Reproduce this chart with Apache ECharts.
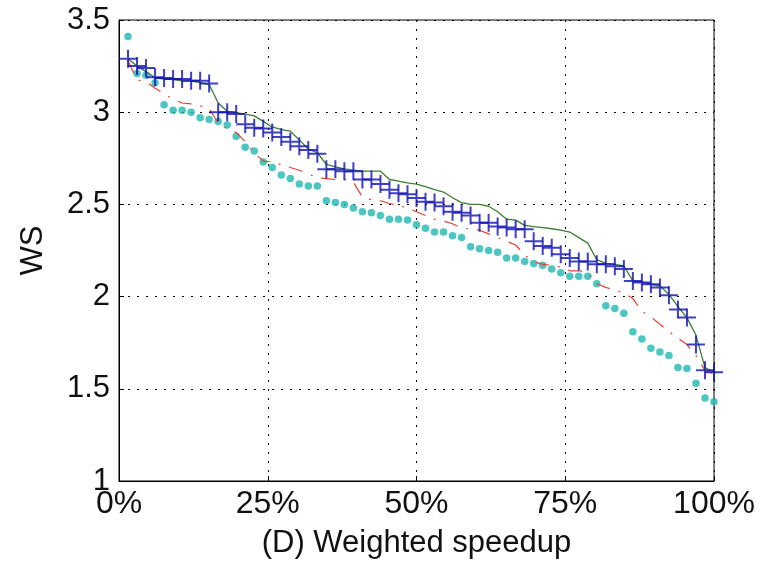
<!DOCTYPE html>
<html>
<head>
<meta charset="utf-8">
<script src="https://cdn.jsdelivr.net/npm/echarts@6/dist/echarts.min.js"></script>
<style>
  html, body { margin: 0; padding: 0; background: #fff; }
  #chart { width: 765px; height: 564px; }
</style>
</head>
<body>
<div id="chart"></div>
<script>
// Sorted weighted-speedup values for four configurations (66 workloads each)
const dotsWS = [
  3.41, 3.21, 3.20, 3.16, 3.04, 3.01, 3.01, 3.00, 2.97, 2.96, 2.95,
  2.93, 2.87, 2.81, 2.79, 2.73, 2.70, 2.66, 2.64, 2.61, 2.60, 2.60,
  2.52, 2.51, 2.50, 2.48, 2.46, 2.455, 2.44, 2.42, 2.42, 2.415, 2.39,
  2.37, 2.35, 2.35, 2.33, 2.32, 2.27, 2.26, 2.25, 2.24, 2.21, 2.21,
  2.19, 2.18, 2.17, 2.15, 2.13, 2.11, 2.11, 2.11, 2.07, 1.95, 1.935,
  1.91, 1.81, 1.77, 1.72, 1.70, 1.68, 1.615, 1.61, 1.53, 1.45, 1.43
];
const dashDotWS = [
  3.28, 3.175, 3.165, 3.13, 3.10, 3.07, 3.05, 3.045, 3.035, 3.02, 2.94,
  2.91, 2.89, 2.84, 2.78, 2.735, 2.73, 2.715, 2.70, 2.685, 2.665, 2.645,
  2.64, 2.635, 2.635, 2.62, 2.54, 2.525, 2.52, 2.505, 2.495, 2.48, 2.46,
  2.44, 2.42, 2.41, 2.395, 2.37, 2.367, 2.36, 2.34, 2.32, 2.30, 2.28,
  2.225, 2.19, 2.175, 2.17, 2.16, 2.14, 2.14, 2.13, 2.07, 2.05, 2.035,
  2.02, 1.99, 1.92, 1.89, 1.85, 1.81, 1.775, 1.74, 1.68, 1.60, 1.58
];
const solidWS = [
  3.29, 3.25, 3.22, 3.186, 3.18, 3.177, 3.17, 3.168, 3.16, 3.15, 3.05,
  3.005, 2.997, 2.99, 2.98, 2.95, 2.92, 2.906, 2.897, 2.85, 2.80, 2.78,
  2.717, 2.704, 2.693, 2.686, 2.68, 2.68, 2.68, 2.635, 2.626, 2.617, 2.61,
  2.596, 2.58, 2.567, 2.536, 2.51, 2.50, 2.50, 2.49, 2.46, 2.42, 2.415,
  2.386, 2.38, 2.374, 2.368, 2.36, 2.35, 2.32, 2.29, 2.20, 2.18, 2.175,
  2.166, 2.085, 2.08, 2.067, 2.057, 2.012, 1.946, 1.886, 1.79, 1.615, 1.59
];
const plusWS = [
  3.29, 3.25, 3.24, 3.19, 3.186, 3.18, 3.18, 3.17, 3.17, 3.155, 3.00,
  3.00, 2.99, 2.935, 2.915, 2.912, 2.89, 2.865, 2.84, 2.815, 2.795, 2.775,
  2.69, 2.69, 2.68, 2.68, 2.635, 2.635, 2.61, 2.58, 2.56, 2.555, 2.535,
  2.515, 2.51, 2.49, 2.46, 2.455, 2.44, 2.40, 2.40, 2.38, 2.375, 2.365,
  2.365, 2.30, 2.275, 2.265, 2.23, 2.21, 2.19, 2.19, 2.175, 2.175, 2.165,
  2.15, 2.085, 2.076, 2.067, 2.05, 2.007, 1.93, 1.886, 1.74, 1.60, 1.59
];
const xTicks = [0, 25, 50, 75, 100];
const yTicks = [1, 1.5, 2, 2.5, 3, 3.5];

// Each workload sits at its rank percentile along the x axis
const withRank = vals => vals.map((v, i) => [(i + 1) / vals.length * 100, v]);

const FONT = "'Liberation Sans', Arial, sans-serif";
const plusPath = 'path://M8,0H10V8H18V10H10V18H8V10H0V8H8Z';
const gridDots = { show: true, lineStyle: { color: '#000', width: 1, type: [2, 7] } };

const chart = echarts.init(document.getElementById('chart'), null, { renderer: 'canvas' });
chart.setOption({
  animation: false,
  backgroundColor: '#fff',
  grid: {
    left: 119, right: 51, top: 20, bottom: 82,
    show: true, borderColor: '#000', borderWidth: 1, backgroundColor: 'transparent'
  },
  xAxis: {
    type: 'value',
    min: xTicks[0], max: xTicks[xTicks.length - 1], interval: 25,
    name: '(D) Weighted speedup',
    nameLocation: 'middle', nameGap: 47,
    nameTextStyle: { fontFamily: FONT, fontSize: 31, color: '#111' },
    axisLine: { show: true, onZero: false, lineStyle: { color: '#000', width: 1 } },
    axisTick: { show: true, inside: true, length: 5, lineStyle: { color: '#000' } },
    axisLabel: {
      fontFamily: FONT, fontSize: 32, color: '#111', margin: 7,
      formatter: v => v + '%'
    },
    splitLine: gridDots
  },
  yAxis: {
    type: 'value',
    min: yTicks[0], max: yTicks[yTicks.length - 1], interval: 0.5,
    name: 'WS',
    nameLocation: 'middle', nameGap: 70,
    nameTextStyle: { fontFamily: FONT, fontSize: 31, color: '#111' },
    axisLine: { show: true, onZero: false, lineStyle: { color: '#000', width: 1 } },
    axisTick: { show: true, inside: true, length: 5, lineStyle: { color: '#000' } },
    axisLabel: {
      fontFamily: FONT, fontSize: 31, color: '#111', margin: 9,
      formatter: v => String(v)
    },
    splitLine: gridDots
  },
  series: [
    {
      type: 'scatter',
      data: withRank(dotsWS),
      symbol: 'circle', symbolSize: 7.5,
      itemStyle: { color: '#1fb8b0' },
      z: 2
    },
    {
      type: 'line',
      data: withRank(dashDotWS),
      showSymbol: false,
      lineStyle: { color: '#e8402f', width: 1.2, type: [14, 9, 2, 9] },
      z: 3
    },
    {
      type: 'line',
      data: withRank(solidWS),
      showSymbol: false,
      lineStyle: { color: '#3a8030', width: 1.3 },
      z: 4
    },
    {
      type: 'scatter',
      data: withRank(plusWS),
      symbol: plusPath, symbolSize: 18,
      itemStyle: { color: '#1010b4' },
      z: 5
    }
  ]
});
</script>
</body>
</html>
